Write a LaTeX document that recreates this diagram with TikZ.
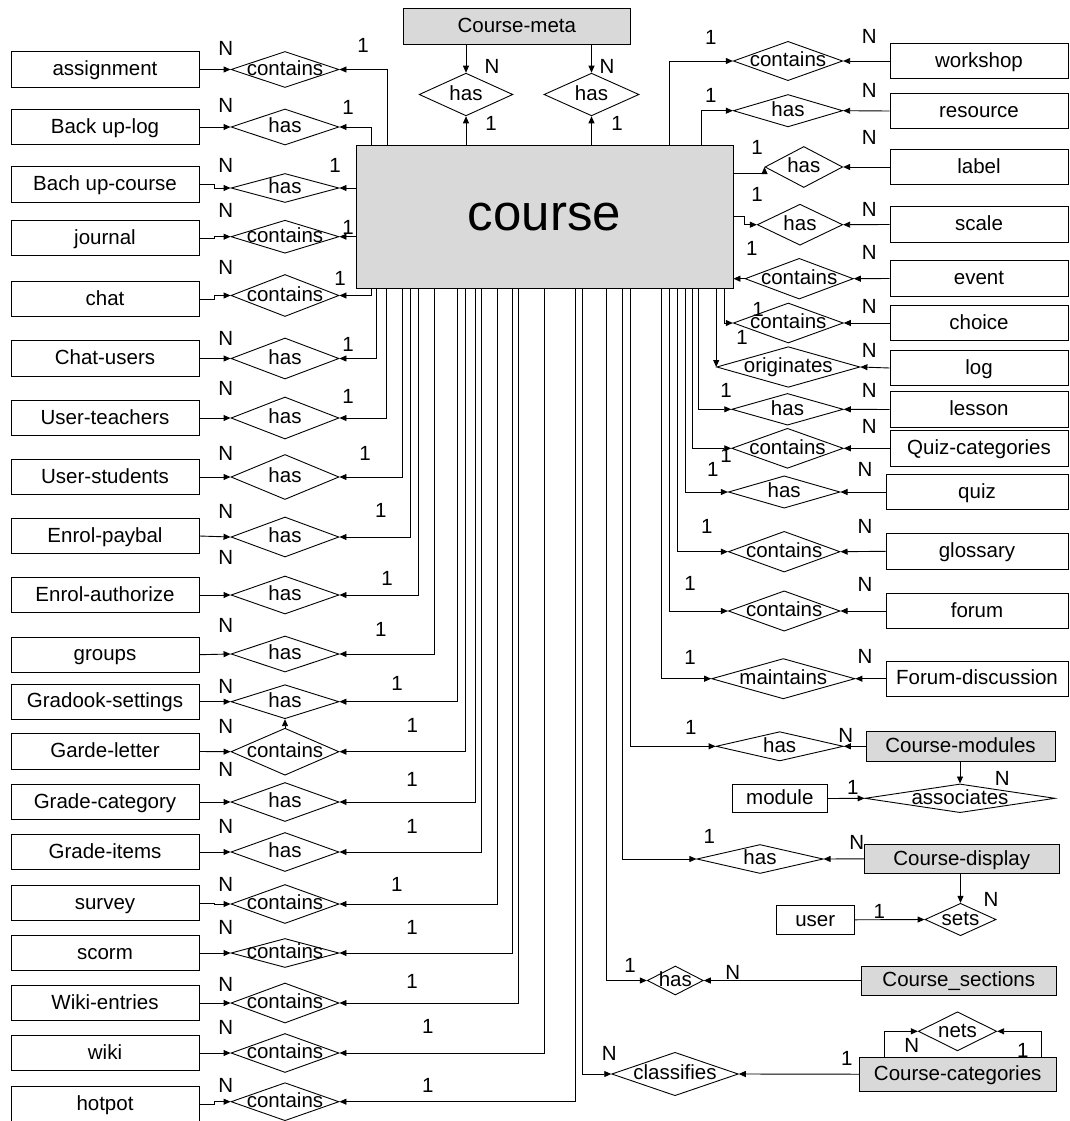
\documentclass[tikz,border=0pt]{standalone}
\usepackage{fontspec}
\setmainfont{Liberation Sans}
\usetikzlibrary{shapes.geometric,arrows.meta}
\newcommand\fs{\fontsize{20.5}{24}\selectfont}
\newcommand\dt[1]{\makebox[0pt]{#1}}
\begin{document}
\begin{tikzpicture}[x=1pt,y=-1pt,line width=0.9pt,
  ent/.style={draw, fill=white, minimum height=35.5pt, inner sep=0pt, font=\fs, text height=16.6pt, text depth=4.2pt},
  lent/.style={ent, minimum width=188pt},
  rent/.style={ent, minimum width=178pt},
  rent2/.style={ent, minimum width=182pt},
  gent/.style={draw, fill=gray!30, inner sep=0pt, font=\fs, text height=16.6pt, text depth=4.2pt},
  rel/.style={draw, diamond, inner sep=0pt, font=\fs, text height=16pt, text depth=4.2pt},
  lrel/.style={rel, minimum width=108pt},
  conn/.style={draw, -{Triangle[length=7pt,width=6pt]}},
  card/.style={inner sep=0pt, font=\fs}]
\useasboundingbox (0,0) rectangle (1070,1121);

% central entity
\node[gent, minimum width=377pt, minimum height=143pt, font=\fontsize{51}{60}\selectfont, text height=27pt, text depth=0pt] (course) at (544.5,216.5) {course};
\node[gent, minimum width=227.7pt, minimum height=35.7pt] (meta) at (516.8,26.2) {Course-meta};
\node[rel, minimum width=93.7pt, minimum height=42.7pt] (h1) at (466,94.5) {\dt{has}};
\node[rel, minimum width=95pt, minimum height=42.7pt] (h2) at (591.5,94.5) {\dt{has}};
\draw[conn] (meta.south -| h1) -- (h1.north);
\draw[conn] (meta.south -| h2) -- (h2.north);
\draw[conn] (course.north -| h1) -- (h1.south);
\draw[conn] (course.north -| h2) -- (h2.south);
\node[card] (mn1) at (492,66) {N};
\node[card] (mn2) at (607,66) {N};
\node[card] (mo1) at (491,123) {1};
\node[card] (mo2) at (617,123) {1};

% ---------- left side ----------
\node[lent] (e1) at (105,69.5) {assignment};
\node[lent] (e2) at (105,127) {Back up-log};
\node[lent] (e3) at (105,184.5) {Bach up-course};
\node[lent] (e4) at (105,238) {journal};
\node[lent] (e5) at (105,299) {chat};
\node[lent] (e6) at (105,358.5) {Chat-users};
\node[lent] (e7) at (105,418) {User-teachers};
\node[lent] (e8) at (105,477) {User-students};
\node[lent] (e9) at (105,536) {Enrol-paybal};
\node[lent] (e10) at (105,595) {Enrol-authorize};
\node[lent] (e11) at (105,654.7) {groups};
\node[lent] (e12) at (105,701.7) {Gradook-settings};
\node[lent] (e13) at (105,751.5) {Garde-letter};
\node[lent] (e14) at (105,802) {Grade-category};
\node[lent] (e15) at (105,852) {Grade-items};
\node[lent] (e16) at (105,903) {survey};
\node[lent] (e17) at (105,953) {scorm};
\node[lent] (e18) at (105,1003) {Wiki-entries};
\node[lent] (e19) at (105,1053) {wiki};
\node[lent] (e20) at (105,1104) {hotpot};

\node[lrel, minimum height=36pt] (r1) at (285,69.5) {\dt{contains}};
\node[lrel, minimum height=36pt] (r2) at (285,127) {\dt{has}};
\node[lrel, minimum height=29pt] (r3) at (285,188) {\dt{has}};
\node[lrel, minimum height=33pt] (r4) at (285,236.7) {\dt{contains}};
\node[lrel, minimum height=42pt] (r5) at (285,295.5) {\dt{contains}};
\node[lrel, minimum height=41pt] (r6) at (285,358.5) {\dt{has}};
\node[lrel, minimum height=42pt] (r7) at (285,418) {\dt{has}};
\node[lrel, minimum height=45pt] (r8) at (285,477) {\dt{has}};
\node[lrel, minimum height=40pt] (r9) at (285,537) {\dt{has}};
\node[lrel, minimum height=38pt] (r10) at (285,595) {\dt{has}};
\node[lrel, minimum height=36pt] (r11) at (285,654) {\dt{has}};
\node[lrel, minimum height=34pt] (r12) at (285,701.7) {\dt{has}};
\node[lrel, minimum height=47pt] (r13) at (285,751.7) {\dt{contains}};
\node[lrel, minimum height=39pt] (r14) at (285,802) {\dt{has}};
\node[lrel, minimum height=39pt] (r15) at (285,852) {\dt{has}};
\node[lrel, minimum height=39pt] (r16) at (285,904) {\dt{contains}};
\node[lrel, minimum height=29pt] (r17) at (285,953) {\dt{contains}};
\node[lrel, minimum height=40pt] (r18) at (285,1003) {\dt{contains}};
\node[lrel, minimum height=39pt] (r19) at (285,1053) {\dt{contains}};
\node[lrel, minimum height=38pt] (r20) at (285,1101.7) {\dt{contains}};

\foreach \i in {1,2,6,7,8,9,10,11,12,13,14,15,17,18,19}
  \draw[conn] (e\i.east) -- (r\i.west);
\foreach \i in {3,4,5,16,20}
  \draw[conn] (e\i.east) -- ++(15,0) |- (r\i.west);

\draw[conn] ([xshift=31.5pt]course.north west) |- (r1.east);
\draw[conn] ([xshift=15.7pt]course.north west) |- (r2.east);
\draw[conn] (course.west |- r3) -- (r3.east);
\draw[conn] (course.west |- r4) -- (r4.east);
\foreach \s/\r in {15.7/r5,21.3/r6,31.3/r7,47.3/r8,55/r9,63/r10,78.7/r11,102/r12,110/r13,120/r14,125.7/r15,141.7/r16,157.3/r17,163/r18,188.7/r19,219.7/r20}
  \draw[conn] ([xshift=\s pt]course.south west) |- (\r.east);
\draw[conn] (r13.north) -- (r12.south);

\foreach \y [count=\k] in {48,105,165,210,267,338,388,453,511,557,625,686,726.7,769,826.7,884,927,984,1027,1085}
  \node[card] (ln\k) at (225.7,\y) {N};
\foreach \x/\y [count=\k] in {363/45,348/107,335/165,348/227,340/278,348/344,348/396,365/453,380.7/510,387/578,380.7/629,397/683,412.3/725.7,412/779,412/826,396.7/884,412/927,412/981,427.7/1026.7,427.7/1085}
  \node[card] (lo\k) at (\x,\y) {1};

% ---------- right side ----------
\node[rent] (f1) at (979,61) {workshop};
\node[rent] (f2) at (979,111) {resource};
\node[rent] (f3) at (979,167) {label};
\node[rent] (f4) at (979,224.5) {scale};
\node[rent] (f5) at (979,278.5) {event};
\node[rent] (f6) at (979,323) {choice};
\node[rent] (f7) at (979,368) {log};
\node[rent] (f8) at (979,409.5) {lesson};
\node[rent] (f9) at (979,448.3) {Quiz-categories};
\node[rent2] (f10) at (977,492) {quiz};
\node[rent2] (f11) at (977,551.3) {glossary};
\node[rent2] (f12) at (977,611) {forum};
\node[rent2] (f13) at (977,678.7) {Forum-discussion};

\node[rel, minimum width=109.4pt, minimum height=39.3pt] (s1) at (788,61) {\dt{contains}};
\node[rel, minimum width=109.4pt, minimum height=32.4pt] (s2) at (788,110.7) {\dt{has}};
\node[rel, minimum width=77.7pt, minimum height=41pt] (s3) at (803.8,167) {\dt{has}};
\node[rel, minimum width=85.4pt, minimum height=41pt] (s4) at (800,224.7) {\dt{has}};
\node[rel, minimum width=108.3pt, minimum height=40.7pt] (s5) at (799.2,278.7) {\dt{contains}};
\node[rel, minimum width=110pt, minimum height=40pt] (s6) at (788.3,323) {\dt{contains}};
\node[rel, minimum width=143.3pt, minimum height=40.6pt] (s7) at (788.3,367) {\dt{originates}};
\node[rel, minimum width=111.6pt, minimum height=31.7pt] (s8) at (787.5,409.3) {\dt{has}};
\node[rel, minimum width=111.6pt, minimum height=40pt] (s9) at (787.5,448.3) {\dt{contains}};
\node[rel, minimum width=111.7pt, minimum height=32.3pt] (s10) at (784.2,492) {\dt{has}};
\node[rel, minimum width=111.7pt, minimum height=40.7pt] (s11) at (784.2,551.7) {\dt{contains}};
\node[rel, minimum width=111.7pt, minimum height=40.3pt] (s12) at (784.2,611) {\dt{contains}};
\node[rel, minimum width=143.3pt, minimum height=40.3pt] (s13) at (783.3,678.7) {\dt{maintains}};

\foreach \i in {1,...,13}
  \draw[conn] (f\i.west) -- (s\i.east);

\draw[conn] ([xshift=314pt]course.north west) |- (s1.west);
\draw[conn] ([xshift=345.7pt]course.north west) |- (s2.west);
\draw[conn] ([yshift=43.5pt]course.east) -| (s3.west);
\draw[conn] (course.east) -- ++(11,0) |- (s4.west);
\draw[conn] (s5.west) -- (course.east |- s5.west);
\draw[conn] ([xshift=369pt]course.south west) |- (s6.west);
\draw[conn] (course.south -| s7.west) -- (s7.west);
\foreach \s/\r in {343.3/s8,337.3/s9,329.7/s10,322.3/s11,314/s12,306.3/s13}
  \draw[conn] ([xshift=\s pt]course.south west) |- (\r.west);

\foreach \x/\y [count=\k] in {869.3/36.7,869.3/90.7,869.3/137.3,869.3/209.3,869.3/252.7,869.3/306.7,869.3/350,869.3/390,869.3/426.7,865/469.3,865/526.7,865/584,865/656.7}
  \node[card] (rn\k) at (\x,\y) {N};
\foreach \x/\y [count=\k] in {710.7/37,710.7/95,757/147,757/194,751.7/248.3,758/309,742/337,726/390,726/455,712.7/469.3,706.7/526.7,690/583,690/657}
  \node[card] (ro\k) at (\x,\y) {1};

% ---------- lower right ----------
\node[rel, minimum width=127.3pt, minimum height=29.3pt] (hm) at (779.7,746.3) {\dt{has}};
\node[gent, minimum width=189pt, minimum height=29.3pt] (cm) at (960.5,746.3) {Course-modules};
\node[rel, minimum width=190pt, minimum height=28.7pt] (as) at (960,798.3) {\dt{associates}};
\node[ent, minimum width=95pt, minimum height=28.4pt] (mod) at (779.8,798.5) {module};
\draw[conn] ([xshift=274.7pt]course.south west) |- (hm.west);
\draw[conn] (cm.west) -- (hm.east);
\draw[conn] (cm.south -| as) -- (as.north);
\draw[conn] (mod.east) -- (as.west);
\node[card] (c1) at (690.7,727.3) {1};
\node[card] (c2) at (845.7,735) {N};
\node[card] (c3) at (1002.3,778.3) {N};
\node[card] (c4) at (852.7,787.3) {1};

\node[rel, minimum width=126.3pt, minimum height=29pt] (hd) at (760,859) {\dt{has}};
\node[gent, minimum width=194.7pt, minimum height=29pt] (cd) at (961.7,858.8) {Course-display};
\node[rel, minimum width=71pt, minimum height=32.4pt] (st) at (960.5,919.5) {\dt{sets}};
\node[ent, minimum width=78.3pt, minimum height=28.3pt] (usr) at (815.2,919.8) {user};
\draw[conn] ([xshift=267pt]course.south west) |- (hd.west);
\draw[conn] (cd.west) -- (hd.east);
\draw[conn] (cd.south -| st) -- (st.north);
\draw[conn] (usr.east) -- (st.west);
\node[card] (c5) at (709.3,836.7) {1};
\node[card] (c6) at (856.7,842.3) {N};
\node[card] (c7) at (991,899.3) {N};
\node[card] (c8) at (879.3,911) {1};

\node[rel, minimum width=56pt, minimum height=29pt] (hs) at (675.3,980.5) {\dt{has}};
\node[gent, minimum width=194.3pt, minimum height=29pt] (cs) at (958.8,980.5) {Course\_sections};
\draw[conn] ([xshift=251.3pt]course.south west) |- (hs.west);
\draw[conn] (cs.west) -- (hs.east);
\node[card] (c9) at (630,965) {1};
\node[card] (c10) at (732.7,972.3) {N};

\node[rel, minimum width=126.6pt, minimum height=43.4pt] (cl) at (675,1074) {\dt{classifies}};
\node[gent, minimum width=196.7pt, minimum height=33.7pt] (cc) at (957.7,1074.2) {Course-categories};
\node[rel, minimum width=78.4pt, minimum height=39pt] (nets) at (957.5,1031.3) {\dt{nets}};
\draw[conn] ([xshift=227.3pt]course.south west) |- (cl.west);
\draw[conn] (cc.west) -- (cl.east);
\draw[conn] ([xshift=25.7pt]cc.north west) |- (nets.west);
\draw[conn] ([xshift=182.4pt]cc.north west) |- (nets.east);
\node[card] (c11) at (609.3,1053.3) {N};
\node[card] (c12) at (846.7,1058.3) {1};
\node[card] (c13) at (911.7,1045.7) {N};
\node[card] (c14) at (1022.7,1050) {1};
\end{tikzpicture}
\end{document}
